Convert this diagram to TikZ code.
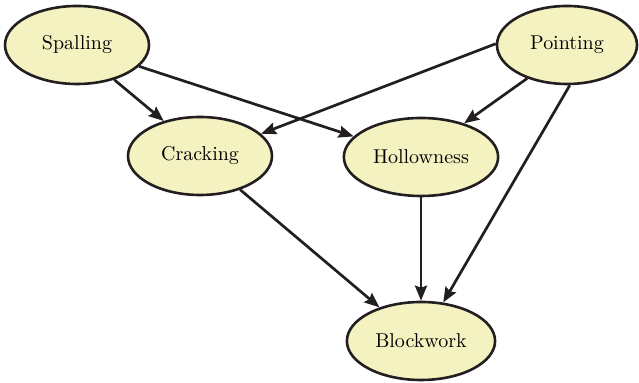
\documentclass[tikz,border=0pt]{standalone}
\usetikzlibrary{shapes.geometric,arrows.meta}
\definecolor{cream}{HTML}{F5F2C2}
\definecolor{ink}{HTML}{231F20}
\tikzset{defect/.style={ellipse,draw=ink,fill=cream,line width=1.3pt,minimum width=72pt,minimum height=39pt},
  link/.style={ink,line width=1.35pt,-{Stealth[length=7.5pt,width=6pt,inset=1pt]}}}
\begin{document}
\begin{tikzpicture}[x=0.5pt,y=-0.5pt]
\useasboundingbox (0,0) rectangle (639,383);
\node[defect] (spall) at (77,45) {Spalling};
\node[defect,minimum width=70pt] (point) at (567,45) {Pointing};
\node[defect] (crack) at (200,156) {Cracking};
\node[defect] (hollow) at (421,157) {Hollowness};
\node[defect] (block) at (421,341) {Blockwork};
\foreach \a/\b in {spall.317/crack.136, spall.341/hollow.163, point.179/crack.20,
  point.220/hollow.38, point.274/block.60, crack.320/block.141, hollow.south/block.north} % edit here for the edges
\draw[link] (\a) -- (\b);
\end{tikzpicture}
\end{document}
